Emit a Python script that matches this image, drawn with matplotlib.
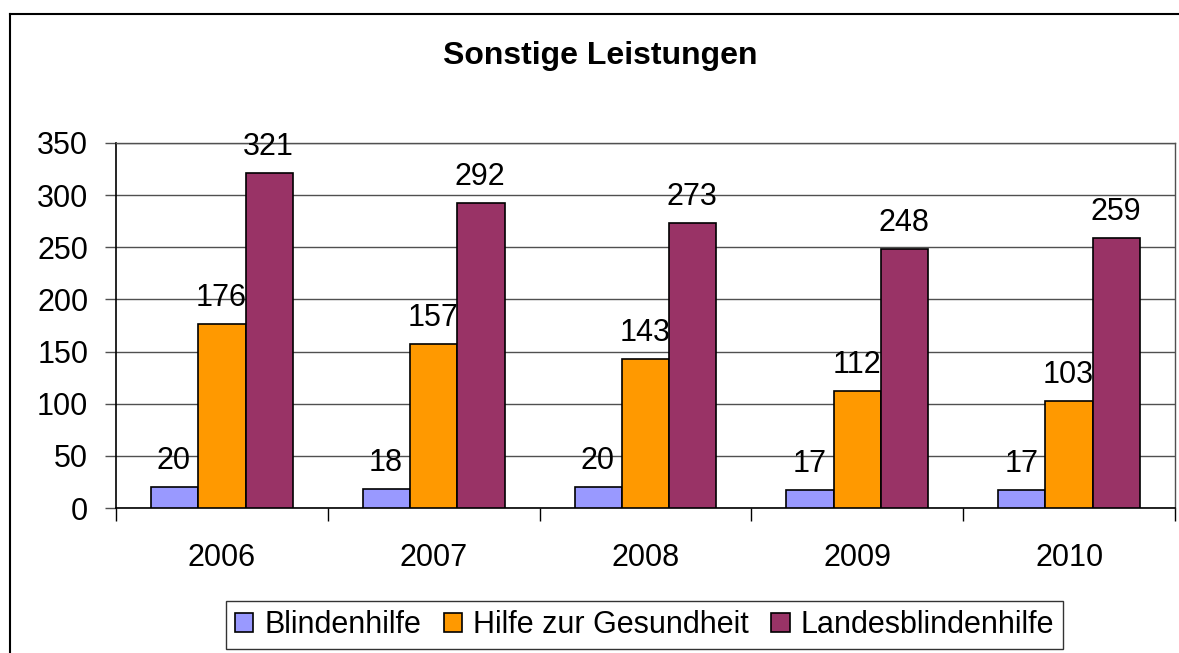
import matplotlib
matplotlib.use("Agg")
import matplotlib.pyplot as plt
import numpy as np
from matplotlib.lines import Line2D
from matplotlib.patches import Patch

plt.rcParams['font.family'] = ['Liberation Sans', 'DejaVu Sans']

years = ["2006", "2007", "2008", "2009", "2010"]
series_names = ["Blindenhilfe", "Hilfe zur Gesundheit", "Landesblindenhilfe"]
blindenhilfe = [20, 18, 20, 17, 17]
hilfe_gesundheit = [176, 157, 143, 112, 103]
landesblindenhilfe = [321, 292, 273, 248, 259]
colors = ["#9999FF", "#FF9900", "#993366"]
title = "Sonstige Leistungen"

W, H = 1179, 653
fig = plt.figure(figsize=(W / 100, H / 100), dpi=100)

# outer chart frame (top and left edges visible)
fig.add_artist(Line2D([10 / W, 10 / W], [0, 1 - 14 / H], transform=fig.transFigure, color="black", lw=1.5))
fig.add_artist(Line2D([10 / W, 1], [1 - 14 / H, 1 - 14 / H], transform=fig.transFigure, color="black", lw=1.5))

left, right, top, bottom = 116, 1175, 143, 508
ax = fig.add_axes([left / W, 1 - bottom / H, (right - left) / W, (bottom - top) / H])

x = np.arange(len(years))
bw = 0.223
all_series = [blindenhilfe, hilfe_gesundheit, landesblindenhilfe]
for i, (vals, c, name) in enumerate(zip(all_series, colors, series_names)):
    xs = x + (i - 1) * bw
    ax.bar(xs, vals, width=bw, color=c, edgecolor="black", linewidth=1.2, label=name, zorder=3)
    for xi, v in zip(xs, vals):
        ax.annotate(str(v), (xi, v), xytext=(-0.5, 13), textcoords="offset points",
                    ha="center", va="baseline", fontsize=22, zorder=4)

ax.set_xlim(-0.5, len(years) - 0.5)
ax.set_ylim(0, 350)
ax.set_yticks(np.arange(0, 351, 50))
ax.yaxis.grid(True, color="#505050", lw=1.0, zorder=0)
ax.set_axisbelow(True)

ax.set_xticks(x)
ax.set_xticklabels(years)
ax.set_xticks(np.arange(-0.5, len(years)), minor=True)
ax.tick_params(axis="x", which="major", length=0, pad=25, labelsize=22)
ax.tick_params(axis="x", which="minor", length=9, width=1, color="black", direction="out")
ax.tick_params(axis="y", length=8, width=1.0, pad=12, labelsize=22, color="#505050", direction="out")

for s in ["left", "bottom"]:
    ax.spines[s].set_color("black")
    ax.spines[s].set_linewidth(1.2)
for s in ["top", "right"]:
    ax.spines[s].set_color("#505050")
    ax.spines[s].set_linewidth(1.0)

fig.text(600 / W, 1 - 56 / H, title, ha="center", va="center", fontsize=23, fontweight="bold")

handles = [Patch(facecolor=c, edgecolor="black", linewidth=1.2) for c in colors]
leg = fig.legend(handles, series_names, loc="upper center", bbox_to_anchor=(644.5 / W, 1 - 601 / H),
                 ncol=3, fontsize=22, frameon=True, fancybox=False, edgecolor="black",
                 handlelength=0.6, handleheight=0.6, handletextpad=0.35, columnspacing=0.75,
                 borderpad=0.3, borderaxespad=0)
leg.get_frame().set_linewidth(1.0)

fig.savefig("out.png", dpi=100)
